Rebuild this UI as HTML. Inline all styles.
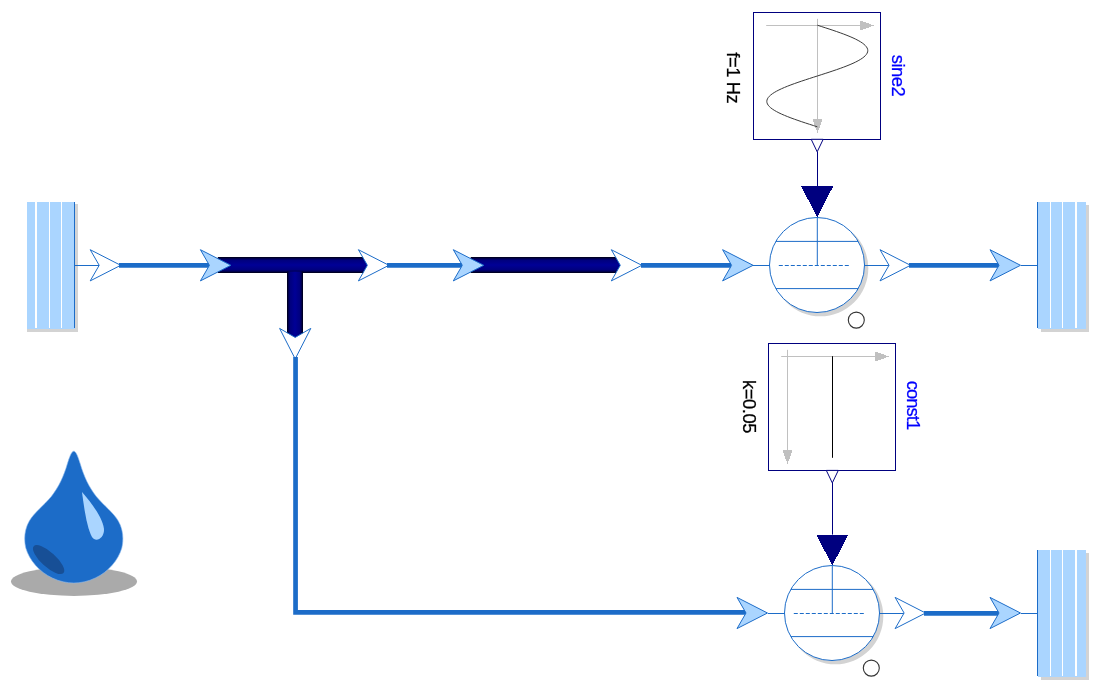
<!DOCTYPE html>
<html><head><meta charset="utf-8"><style>
html,body{margin:0;padding:0;background:#fff;}
svg{display:block;font-family:"Liberation Sans",sans-serif;}
</style></head><body>
<div style="will-change:transform"><svg width="1105" height="692" viewBox="0 0 1105 692">
<defs><linearGradient id="gh" x1="0" y1="0" x2="0" y2="1"><stop offset="0" stop-color="#000010"/><stop offset="0.08" stop-color="#000045"/><stop offset="0.2" stop-color="#00007e"/><stop offset="0.5" stop-color="#000096"/><stop offset="0.8" stop-color="#00007e"/><stop offset="0.92" stop-color="#000045"/><stop offset="1" stop-color="#000010"/></linearGradient><linearGradient id="gv" x1="0" y1="0" x2="1" y2="0"><stop offset="0" stop-color="#000010"/><stop offset="0.08" stop-color="#000045"/><stop offset="0.2" stop-color="#00007e"/><stop offset="0.5" stop-color="#000096"/><stop offset="0.8" stop-color="#00007e"/><stop offset="0.92" stop-color="#000045"/><stop offset="1" stop-color="#000010"/></linearGradient></defs>
<rect x="27" y="204" width="51" height="128" fill="#d3d3d3"/>
<rect x="27" y="202" width="48" height="127" fill="#aad5ff"/>
<rect x="35" y="202" width="2" height="126" fill="#fff"/>
<rect x="49" y="202" width="1" height="126" fill="#fff"/>
<rect x="61" y="202" width="1" height="126" fill="#fff"/>
<rect x="74" y="202" width="1" height="126" fill="#1c6cc8"/>
<line x1="75" y1="265.5" x2="99" y2="265.5" stroke="#1c6cc8" stroke-width="1"/>
<path d="M90.19999999999999,249.70000000000002 L120.69999999999999,265.3 L90.19999999999999,280.90000000000003 L99.19999999999999,265.3 Z" fill="#fff" stroke="#1c6cc8" stroke-width="1"/>
<line x1="119" y1="265.4" x2="210" y2="265.4" stroke="#1c6cc8" stroke-width="4.8"/>
<rect x="217.8" y="257" width="149.2" height="16" fill="url(#gh)"/>
<rect x="287" y="271.5" width="16" height="66.5" fill="url(#gv)"/>
<path d="M200.4,249.70000000000002 L230.9,265.3 L200.4,280.90000000000003 L209.4,265.3 Z" fill="#aad5ff" stroke="#1c6cc8" stroke-width="1"/>
<path d="M358.40000000000003,249.70000000000002 L388.90000000000003,265.3 L358.40000000000003,280.90000000000003 L367.40000000000003,265.3 Z" fill="#fff" stroke="#1c6cc8" stroke-width="1"/>
<path d="M279.59999999999997,328.40000000000003 L295.2,358.90000000000003 L310.8,328.40000000000003 L295.2,337.40000000000003 Z" fill="#fff" stroke="#1c6cc8" stroke-width="1"/>
<line x1="387" y1="265.4" x2="462" y2="265.4" stroke="#1c6cc8" stroke-width="4.8"/>
<rect x="470.7" y="257" width="149.3" height="16" fill="url(#gh)"/>
<path d="M453.3,249.70000000000002 L483.8,265.3 L453.3,280.90000000000003 L462.3,265.3 Z" fill="#aad5ff" stroke="#1c6cc8" stroke-width="1"/>
<path d="M611.3000000000001,249.70000000000002 L641.8000000000001,265.3 L611.3000000000001,280.90000000000003 L620.3000000000001,265.3 Z" fill="#fff" stroke="#1c6cc8" stroke-width="1"/>
<line x1="641" y1="265.4" x2="731" y2="265.4" stroke="#1c6cc8" stroke-width="4.8"/>
<path d="M722.6,249.70000000000002 L753.1,265.3 L722.6,280.90000000000003 L731.6,265.3 Z" fill="#aad5ff" stroke="#1c6cc8" stroke-width="1"/>
<line x1="753" y1="265.5" x2="770" y2="265.5" stroke="#1c6cc8" stroke-width="1"/>
<circle cx="820.3" cy="268.3" r="48" fill="#d3d3d3"/>
<circle cx="817" cy="265" r="47.5" fill="#fff" stroke="#1c6cc8" stroke-width="1"/>
<line x1="775.7775546576868" y1="241.4" x2="858.2224453423132" y2="241.4" stroke="#1c6cc8" stroke-width="1"/>
<line x1="775.7775546576868" y1="288.6" x2="858.2224453423132" y2="288.6" stroke="#1c6cc8" stroke-width="1"/>
<line x1="778.8" y1="265.5" x2="849.5" y2="265.5" stroke="#1c6cc8" stroke-width="1.1" stroke-dasharray="4,2"/>
<line x1="817.3" y1="218" x2="817.3" y2="265.5" stroke="#1c6cc8" stroke-width="1"/>
<circle cx="856.3" cy="320.1" r="8" fill="none" stroke="#333" stroke-width="1.1"/>
<line x1="864" y1="265.5" x2="890" y2="265.5" stroke="#1c6cc8" stroke-width="1"/>
<path d="M880.0,249.70000000000002 L910.5,265.3 L880.0,280.90000000000003 L889.0,265.3 Z" fill="#fff" stroke="#1c6cc8" stroke-width="1"/>
<line x1="909" y1="265.4" x2="1000" y2="265.4" stroke="#1c6cc8" stroke-width="4.8"/>
<path d="M990.0,249.70000000000002 L1020.5,265.3 L990.0,280.90000000000003 L999.0,265.3 Z" fill="#aad5ff" stroke="#1c6cc8" stroke-width="1"/>
<line x1="1021" y1="265.5" x2="1037" y2="265.5" stroke="#1c6cc8" stroke-width="1"/>
<rect x="1041" y="205" width="48" height="127" fill="#d3d3d3"/>
<rect x="1038" y="202" width="48" height="127" fill="#aad5ff"/>
<rect x="1050" y="202" width="1" height="126" fill="#fff"/>
<rect x="1062" y="202" width="1" height="126" fill="#fff"/>
<rect x="1075" y="202" width="2" height="126" fill="#fff"/>
<rect x="1037" y="202" width="1" height="126" fill="#1c6cc8"/>
<path d="M295.55,357 L295.55,612.4 L746,612.4" fill="none" stroke="#1c6cc8" stroke-width="4.7"/>
<path d="M737.0,597.4 L767.5,613.0 L737.0,628.6 L746.0,613.0 Z" fill="#aad5ff" stroke="#1c6cc8" stroke-width="1"/>
<line x1="768" y1="613.5" x2="785" y2="613.5" stroke="#1c6cc8" stroke-width="1"/>
<circle cx="835.3" cy="616.3" r="48" fill="#d3d3d3"/>
<circle cx="832" cy="613" r="47.5" fill="#fff" stroke="#1c6cc8" stroke-width="1"/>
<line x1="790.7775546576868" y1="589.4" x2="873.2224453423132" y2="589.4" stroke="#1c6cc8" stroke-width="1"/>
<line x1="790.7775546576868" y1="636.6" x2="873.2224453423132" y2="636.6" stroke="#1c6cc8" stroke-width="1"/>
<line x1="793.8" y1="613.5" x2="864.5" y2="613.5" stroke="#1c6cc8" stroke-width="1.1" stroke-dasharray="4,2"/>
<line x1="832.3" y1="566" x2="832.3" y2="613.5" stroke="#1c6cc8" stroke-width="1"/>
<circle cx="871.3" cy="668.1" r="8" fill="none" stroke="#333" stroke-width="1.1"/>
<line x1="879" y1="613.5" x2="905" y2="613.5" stroke="#1c6cc8" stroke-width="1"/>
<path d="M895.1,597.4 L925.6,613.0 L895.1,628.6 L904.1,613.0 Z" fill="#fff" stroke="#1c6cc8" stroke-width="1"/>
<line x1="924" y1="613.4" x2="1000" y2="613.4" stroke="#1c6cc8" stroke-width="4.8"/>
<path d="M990.0,597.4 L1020.5,613.0 L990.0,628.6 L999.0,613.0 Z" fill="#aad5ff" stroke="#1c6cc8" stroke-width="1"/>
<line x1="1021" y1="613.5" x2="1037" y2="613.5" stroke="#1c6cc8" stroke-width="1"/>
<rect x="1041" y="553" width="48" height="127" fill="#d3d3d3"/>
<rect x="1038" y="550" width="48" height="127" fill="#aad5ff"/>
<rect x="1050" y="550" width="1" height="126" fill="#fff"/>
<rect x="1062" y="550" width="1" height="126" fill="#fff"/>
<rect x="1075" y="550" width="2" height="126" fill="#fff"/>
<rect x="1037" y="550" width="1" height="126" fill="#1c6cc8"/>
<rect x="753.5" y="12.5" width="127" height="127" fill="#fff" stroke="#00007f" stroke-width="1"/>
<line x1="860.18" y1="25.5" x2="766.2" y2="25.5" stroke="#c0c0c0" stroke-width="1"/>
<polygon points="874.15,25.50 860.18,20.42 860.18,30.58" fill="#c0c0c0" shape-rendering="crispEdges"/>
<line x1="817.5" y1="18.85" x2="817.5" y2="119.18" stroke="#c0c0c0" stroke-width="1"/>
<polygon points="817.50,133.15 822.58,119.18 812.42,119.18" fill="#c0c0c0" shape-rendering="crispEdges"/>
<polyline points="817.30,25.20 821.26,26.47 825.20,27.74 829.08,29.01 832.90,30.28 836.62,31.55 840.22,32.82 843.68,34.09 846.97,35.36 850.09,36.63 853.00,37.90 855.69,39.17 858.14,40.44 860.34,41.71 862.28,42.98 863.94,44.25 865.31,45.52 866.39,46.79 867.16,48.06 867.63,49.33 867.78,50.60 867.63,51.87 867.16,53.14 866.39,54.41 865.31,55.68 863.94,56.95 862.28,58.22 860.34,59.49 858.14,60.76 855.69,62.03 853.00,63.30 850.09,64.57 846.97,65.84 843.68,67.11 840.22,68.38 836.62,69.65 832.90,70.92 829.08,72.19 825.20,73.46 821.26,74.73 817.30,76.00 813.34,77.27 809.40,78.54 805.52,79.81 801.70,81.08 797.98,82.35 794.38,83.62 790.92,84.89 787.63,86.16 784.51,87.43 781.60,88.70 778.91,89.97 776.46,91.24 774.26,92.51 772.32,93.78 770.66,95.05 769.29,96.32 768.21,97.59 767.44,98.86 766.97,100.13 766.82,101.40 766.97,102.67 767.44,103.94 768.21,105.21 769.29,106.48 770.66,107.75 772.32,109.02 774.26,110.29 776.46,111.56 778.91,112.83 781.60,114.10 784.51,115.37 787.63,116.64 790.92,117.91 794.38,119.18 797.98,120.45 801.70,121.72 805.52,122.99 809.40,124.26 813.34,125.53 817.30,126.80" fill="none" stroke="#3a3a3a" stroke-width="1"/>
<text transform="translate(726.6,78) rotate(90)" text-anchor="middle" font-size="18.4" textLength="51.3" lengthAdjust="spacing" fill="#000" stroke="#000" stroke-width="0.25">f=1 Hz</text>
<text transform="translate(891.7,75.8) rotate(90)" text-anchor="middle" font-size="18.4" textLength="42" lengthAdjust="spacing" fill="#00f" stroke="#00f" stroke-width="0.25">sine2</text>
<path d="M811.2,139.3 L817.2,151.8 L823.2,139.3 Z" fill="#fff" stroke="#00007f" stroke-width="1"/>
<line x1="817.5" y1="151.8" x2="817.5" y2="186.3" stroke="#00007f" stroke-width="1"/>
<path d="M801.2,186.3 L833.2,186.3 L817.2,217.3 Z" fill="#00007f" shape-rendering="crispEdges"/>
<rect x="768.5" y="343.5" width="127" height="127" fill="#fff" stroke="#00007f" stroke-width="1"/>
<line x1="875.18" y1="356.5" x2="781.2" y2="356.5" stroke="#c0c0c0" stroke-width="1"/>
<polygon points="889.15,356.50 875.18,351.42 875.18,361.58" fill="#c0c0c0" shape-rendering="crispEdges"/>
<line x1="787.5" y1="349.85" x2="787.5" y2="459.07" stroke="#c0c0c0" stroke-width="1"/>
<polygon points="787.50,464.15 792.58,450.18 782.42,450.18" fill="#c0c0c0" shape-rendering="crispEdges"/>
<line x1="832.5" y1="356.2" x2="832.5" y2="457.8" stroke="#000" stroke-width="1"/>
<text transform="translate(742.7,406.8) rotate(90)" text-anchor="middle" font-size="18.4" textLength="53.5" lengthAdjust="spacing" fill="#000" stroke="#000" stroke-width="0.25">k=0.05</text>
<text transform="translate(906.9,405.4) rotate(90)" text-anchor="middle" font-size="18.4" textLength="49.5" lengthAdjust="spacing" fill="#00f" stroke="#00f" stroke-width="0.25">const1</text>
<path d="M826.3,470.4 L832.3,482.9 L838.3,470.4 Z" fill="#fff" stroke="#00007f" stroke-width="1"/>
<line x1="832.5" y1="482.9" x2="832.5" y2="534.6" stroke="#00007f" stroke-width="1"/>
<path d="M816.3,534.6 L848.3,534.6 L832.3,565.6 Z" fill="#00007f" shape-rendering="crispEdges"/>
<ellipse cx="74" cy="581.5" rx="63" ry="14.4" fill="#aaaaaa"/>
<path d="M73.8,451.2 C76.10,451.2 78.10,457 80.30,464 C83.80,476 88.80,487 96.30,496.5 C103.80,505.5 113.80,513 118.30,521 C123.30,529.5 123.80,540 121.80,548 C118.30,560 108.30,572 95.30,578 C88.30,581.5 80.30,583 73.80,583 C67.30,583 59.30,581.5 52.30,578 C39.30,572 29.30,560 25.80,548 C23.80,540 24.30,529.5 29.30,521 C33.80,513 43.80,505.5 51.30,496.5 C58.80,487 63.80,476 67.30,464 C69.50,457 71.50,451.2 73.80,451.2 Z" fill="#1c6cc8" stroke="#8ab8ee" stroke-width="0.6"/>
<path d="M82,492 C84,508 87,528 92,537 C96,543 104,538 104,530 C104,522 96,508 82,492 Z" fill="#aad5ff"/>
<ellipse cx="48.6" cy="559.6" rx="20" ry="7.3" transform="rotate(42 48.6 559.6)" fill="#174f96"/>
</svg></div>
</body></html>
